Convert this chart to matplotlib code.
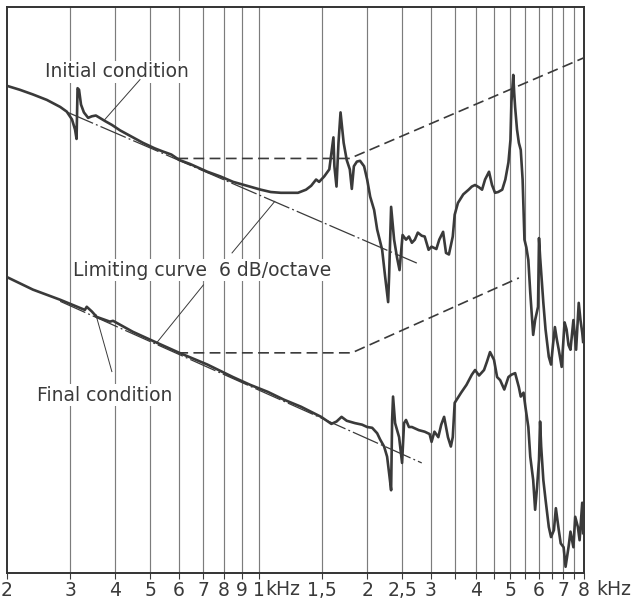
import matplotlib
matplotlib.use("Agg")
import matplotlib.pyplot as plt
from matplotlib.ticker import NullLocator

plt.rcParams['font.family'] = ['DejaVu Sans']

INK = '#3a3a3a'

# frequency scale (Hz) and its labels
grid_freq = [200, 300, 400, 500, 600, 700, 800, 900, 1000, 1500, 2000, 2500, 3000,
             3500, 4000, 4500, 5000, 5500, 6000, 6500, 7000, 7500, 8000]
grid_label = ['2', '3', '4', '5', '6', '7', '8', '9', '1', '1,5', '2', '2,5', '3',
              '', '4', '', '5', '', '6', '', '7', '', '8']

# initial condition, level in dB
init_f = [200, 217, 236, 258, 281, 293, 303, 309, 312, 314, 317, 321, 327, 336, 344, 353,
          362, 374, 391, 412, 439, 477, 514, 541, 572, 602, 644, 688, 720, 782, 849, 928,
          1013, 1080, 1152, 1229, 1285, 1353, 1398, 1443, 1471, 1520, 1570, 1612, 1622,
          1644, 1665, 1687, 1721, 1755, 1790, 1813, 1837, 1873, 1911, 1961, 2000, 2039,
          2091, 2132, 2201, 2243, 2287, 2301, 2331, 2376, 2421, 2460, 2508, 2564, 2612,
          2662, 2713, 2765, 2835, 2889, 2962, 3019, 3113, 3171, 3250, 3311, 3373, 3457,
          3500, 3573, 3697, 3826, 3905, 3987, 4090, 4169, 4250, 4359, 4443, 4530, 4620,
          4743, 4838, 4935, 5000, 5030, 5090, 5120, 5150, 5213, 5275, 5339, 5403, 5435,
          5467, 5534, 5604, 5674, 5781, 5853, 5963, 6000, 6042, 6169, 6256, 6388, 6480,
          6560, 6642, 6725, 6808, 6936, 7066, 7156, 7246, 7337, 7476, 7563, 7606, 7735,
          7822, 7910, 7955]
init_db = [62.4, 61.9, 61.3, 60.6, 59.7, 59.1, 58.1, 56.8, 55.6, 62.1, 61.9, 60.0, 59.0,
           58.3, 58.5, 58.6, 58.3, 57.9, 57.4, 56.7, 56.0, 55.1, 54.4, 54.0, 53.6, 52.9,
           52.4, 51.8, 51.4, 50.8, 50.1, 49.6, 49.1, 48.8, 48.7, 48.7, 48.7, 49.1, 49.6,
           50.4, 50.1, 50.8, 51.7, 55.8, 52.1, 49.5, 55.1, 59.0, 55.1, 52.9, 51.7, 49.2,
           52.1, 52.7, 52.8, 52.1, 50.4, 48.2, 46.5, 44.0, 41.4, 38.0, 34.7, 38.0, 46.9,
           42.7, 40.4, 38.8, 43.3, 42.7, 43.1, 42.3, 42.7, 43.6, 43.2, 43.1, 41.4, 41.8,
           41.5, 42.7, 43.7, 41.0, 40.8, 43.1, 45.9, 47.4, 48.5, 49.1, 49.5, 49.7, 49.4,
           49.1, 50.4, 51.4, 49.7, 48.7, 48.8, 49.1, 50.4, 52.6, 55.5, 60.3, 63.8, 61.5,
           59.7, 56.8, 55.1, 54.2, 50.4, 46.5, 42.7, 41.7, 40.1, 35.9, 30.5, 32.4, 34.1,
           42.9, 40.5, 34.6, 31.2, 27.7, 26.7, 29.2, 31.5, 29.9, 28.6, 26.4, 32.1, 31.2,
           29.2, 28.6, 32.4, 29.9, 28.6, 34.6, 32.4, 30.8, 29.6]

# final condition, level in dB
final_f = [200, 236, 281, 329, 333, 344, 355, 386, 394, 447, 521, 602, 720, 848, 947,
           1060, 1175, 1310, 1490, 1591, 1644, 1698, 1755, 1849, 1936, 2000, 2065, 2132,
           2173, 2229, 2272, 2301, 2331, 2346, 2360, 2391, 2453, 2500, 2532, 2564, 2612,
           2662, 2782, 2889, 2981, 3019, 3075, 3152, 3211, 3271, 3352, 3415, 3457, 3500,
           3647, 3774, 3905, 3987, 4090, 4222, 4304, 4387, 4500, 4590, 4681, 4806, 4935,
           5030, 5151, 5275, 5339, 5435, 5500, 5604, 5674, 5781, 5853, 5926, 6000, 6042,
           6084, 6169, 6256, 6388, 6480, 6601, 6683, 6808, 6893, 7022, 7111, 7246, 7337,
           7476, 7563, 7692, 7778, 7910, 7955]
final_db = [37.9, 36.3, 35.0, 33.7, 34.1, 33.5, 32.8, 32.2, 32.3, 30.9, 29.5, 28.2, 26.7,
            25.1, 24.1, 23.2, 22.2, 21.3, 20.0, 19.1, 19.4, 20.0, 19.5, 19.2, 19.0, 18.7,
            18.6, 17.9, 17.1, 16.2, 14.9, 12.8, 10.6, 19.6, 22.6, 19.2, 17.4, 14.1, 19.2,
            19.6, 18.7, 18.7, 18.3, 18.1, 17.8, 16.8, 18.1, 17.4, 19.0, 20.0, 17.4, 16.2,
            17.4, 21.8, 23.1, 24.1, 25.4, 26.0, 25.3, 26.0, 27.1, 28.3, 27.3, 25.1, 24.7,
            23.5, 25.1, 25.4, 25.6, 23.8, 22.6, 23.1, 21.3, 18.7, 14.9, 11.9, 8.1, 11.0,
            14.5, 19.4, 16.2, 11.9, 9.4, 5.9, 4.6, 5.5, 8.3, 5.5, 3.8, 3.3, 0.8, 3.3, 5.3,
            3.3, 7.2, 5.9, 4.2, 9.0, 5.1]

# limiting curves, 6 dB/octave
lim_init_f = [295, 2747]
lim_init_db = [59.0, 39.7]
lim_final_f = [281, 2835]
lim_final_db = [34.8, 14.1]

# dashed tolerance lines
tol_init_f = [594, 1790, 8000]
tol_init_db = [53.1, 53.1, 66.0]
tol_final_f = [594, 1813, 5275]
tol_final_db = [28.2, 28.2, 37.8]

fig = plt.figure(figsize=(6.32, 6.05), dpi=100)
ax = fig.add_axes([7 / 632, 32 / 605, 577 / 632, 566 / 605])

ax.set_xscale('log')
ax.set_xlim(200, 8000)
ax.set_ylim(0, 72.5)

ax.xaxis.set_minor_locator(NullLocator())
ax.set_xticks(grid_freq)
ax.set_xticklabels(grid_label, fontsize=13.5, color=INK)
ax.set_yticks([])
ax.tick_params(axis='x', direction='out', length=4, width=0.8, pad=2, color=INK)
for x in grid_freq[1:-1]:
    ax.axvline(x, color='#7c7c7c', lw=0.85, zorder=1)
for s in ax.spines.values():
    s.set_color('#333333')
    s.set_linewidth(1.4)

# kHz after the 1 and after the 8
for x, dx in [(1000, 4.5), (8000, 8.5)]:
    ax.annotate('kHz', xy=(x, 0), xycoords=ax.get_xaxis_transform(),
                xytext=(dx, -5), textcoords='offset points', ha='left', va='top',
                fontsize=13.5, color=INK, annotation_clip=False)

# curves
ax.plot(init_f, init_db, color=INK, lw=1.9, zorder=4, solid_joinstyle='round')
ax.plot(final_f, final_db, color=INK, lw=1.9, zorder=4, solid_joinstyle='round')
ax.plot(lim_init_f, lim_init_db, color=INK, lw=0.9, dashes=(22, 2.5, 1.5, 2.5), zorder=3)
ax.plot(lim_final_f, lim_final_db, color=INK, lw=0.9, dashes=(22, 2.5, 1.5, 2.5), zorder=3)
ax.plot(tol_init_f, tol_init_db, color=INK, lw=1.2, dashes=(6.5, 3.2), zorder=3)
ax.plot(tol_final_f, tol_final_db, color=INK, lw=1.2, dashes=(6.5, 3.2), zorder=3)

# labels with leader lines
box = dict(facecolor='white', edgecolor='none', pad=1.0)
ax.text(255, 64.2, 'Initial condition', fontsize=13.5, color=INK, va='center',
        bbox=box, zorder=2)
ax.plot([468, 374], [63.2, 58.1], color=INK, lw=0.7, zorder=3)

ax.text(305, 38.8, 'Limiting curve  6 dB/octave', fontsize=13.5, color=INK,
        va='center', bbox=box, zorder=2)
ax.plot([843, 1108], [41.0, 47.6], color=INK, lw=0.7, zorder=3)
ax.plot([702, 521], [36.9, 29.5], color=INK, lw=0.7, zorder=3)

ax.text(242, 22.8, 'Final condition', fontsize=13.5, color=INK, va='center',
        bbox=box, zorder=2)
ax.plot([391, 353], [25.8, 33.1], color=INK, lw=0.7, zorder=3)

fig.savefig('out.png', dpi=100, facecolor='white')
